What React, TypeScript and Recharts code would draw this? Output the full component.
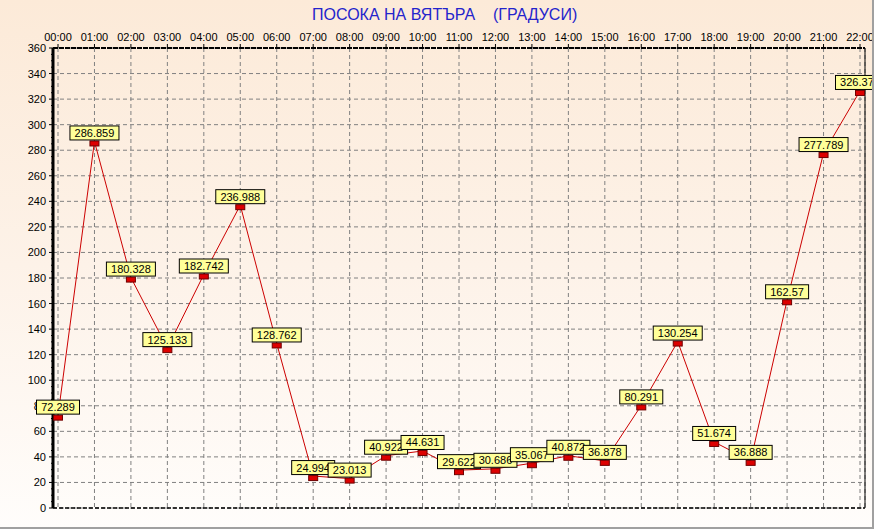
import React from "react";
import {
  LineChart,
  Line,
  XAxis,
  YAxis,
  CartesianGrid,
  LabelList,
  ReferenceLine,
} from "recharts";

const hours = [
  "00:00", "01:00", "02:00", "03:00", "04:00", "05:00", "06:00", "07:00",
  "08:00", "09:00", "10:00", "11:00", "12:00", "13:00", "14:00", "15:00",
  "16:00", "17:00", "18:00", "19:00", "20:00", "21:00", "22:00",
];

const windDirection = [
  72.289, 286.859, 180.328, 125.133, 182.742, 236.988, 128.762, 24.994,
  23.013, 40.922, 44.631, 29.622, 30.686, 35.067, 40.872, 36.878,
  80.291, 130.254, 51.674, 36.888, 162.57, 277.789, 326.379,
];

const yTicks = [
  0, 20, 40, 60, 80, 100, 120, 140, 160, 180, 200, 220, 240, 260, 280, 300,
  320, 340, 360,
];

const yMinorTicks = [
  0, 5, 10, 15, 20, 25, 30, 35, 40, 45, 50, 55, 60, 65, 70, 75, 80, 85, 90,
  95, 100, 105, 110, 115, 120, 125, 130, 135, 140, 145, 150, 155, 160, 165,
  170, 175, 180, 185, 190, 195, 200, 205, 210, 215, 220, 225, 230, 235, 240,
  245, 250, 255, 260, 265, 270, 275, 280, 285, 290, 295, 300, 305, 310, 315,
  320, 325, 330, 335, 340, 345, 350, 355, 360,
];

const title = "ПОСОКА НА ВЯТЪРА    (ГРАДУСИ)";

const data = hours.map((h, i) => ({ hour: h, value: windDirection[i] }));

const FONT = '"Liberation Sans", Arial, sans-serif';

const Marker = (props: any) => {
  const { cx, cy, index } = props;
  if (cx == null || cy == null) return <g key={`m${index}`} />;
  return (
    <rect
      key={`m${index}`}
      x={cx - 4.5}
      y={cy - 0.5}
      width={9}
      height={5}
      fill="#dd0000"
      stroke="#700000"
      strokeWidth={1}
    />
  );
};

const ValueBox = (props: any) => {
  const { x, y, value, index } = props;
  if (x == null || y == null) return null;
  const t = String(value);
  const w = t.length * 6 + 7;
  return (
    <g key={`l${index}`}>
      <rect
        x={x - w / 2}
        y={y - 15.5}
        width={w}
        height={14}
        fill="#ffff99"
        stroke="#000"
        strokeWidth={1}
      />
      <text
        x={x}
        y={y - 4.5}
        textAnchor="middle"
        fontSize={11}
        fontFamily={FONT}
        fill="#000"
      >
        {t}
      </text>
    </g>
  );
};

const YTick = (props: any) => {
  const { x, y, payload } = props;
  const v = payload?.value;
  const major = v % 20 === 0;
  return (
    <g>
      <line
        x1={major ? x + 3 : x + 5}
        x2={x + 7}
        y1={y}
        y2={y}
        stroke="#000"
        strokeWidth={1}
      />
      {major ? (
        <text
          x={x}
          y={y}
          dy={4}
          textAnchor="end"
          fontSize={11}
          fontFamily={FONT}
          fill="#000"
        >
          {v}
        </text>
      ) : null}
    </g>
  );
};

export default function App() {
  return (
    <div
      style={{
        position: "fixed",
        left: 0,
        top: 0,
        width: 874,
        height: 529,
        boxSizing: "border-box",
        background: "linear-gradient(to bottom, #fcead8 0%, #fdf2e8 50%, #fffdfb 100%)",
        fontFamily: FONT,
        overflow: "hidden",
      }}
    >
      <div
        style={{
          position: "absolute",
          left: 312,
          top: 7,
          fontSize: 16,
          lineHeight: "16px",
          color: "#2424cc",
          whiteSpace: "pre",
        }}
      >
        {title}
      </div>
      <LineChart
        width={874}
        height={529}
        data={data}
        margin={{ top: 28, right: 0, bottom: 21, left: 0 }}
        style={{ position: "absolute", left: 0, top: 0 }}
      >
        <CartesianGrid
          stroke="#808080"
          strokeDasharray="4 3"
          horizontalValues={yTicks}
        />
        <XAxis
          dataKey="hour"
          orientation="top"
          interval={0}
          height={20}
          padding={{ left: 5, right: 5 }}
          tick={{ fontSize: 11, fill: "#000", fontFamily: FONT }}
          tickSize={4}
          tickMargin={3}
          tickLine={{ stroke: "#000" }}
          axisLine={{ stroke: "#000", strokeWidth: 2, strokeDasharray: "5 1" }}
        />
        <YAxis
          domain={[0, 360]}
          ticks={yMinorTicks}
          interval={0}
          width={53}
          tick={YTick}
          tickSize={4}
          tickMargin={3}
          tickLine={false}
          axisLine={{ stroke: "#000", strokeWidth: 3 }}
        />
        <YAxis
          yAxisId="r"
          orientation="right"
          domain={[0, 360]}
          width={9}
          tick={false}
          tickLine={false}
          axisLine={{ stroke: "#000", strokeWidth: 1 }}
        />
        <ReferenceLine y={0} stroke="#000" strokeWidth={1.5} strokeDasharray="4 2" />
        <Line
          type="linear"
          dataKey="value"
          stroke="#cc0000"
          strokeWidth={1}
          dot={Marker}
          activeDot={false}
          isAnimationActive={false}
        >
          <LabelList dataKey="value" content={ValueBox} />
        </Line>
      </LineChart>
      <div
        style={{
          position: "absolute",
          left: 0,
          top: 527,
          width: 874,
          height: 2,
          background: "#a0a0a0",
        }}
      />
      <div
        style={{
          position: "absolute",
          left: 872,
          top: 0,
          width: 2,
          height: 529,
          background: "#a0a0a0",
        }}
      />
    </div>
  );
}
